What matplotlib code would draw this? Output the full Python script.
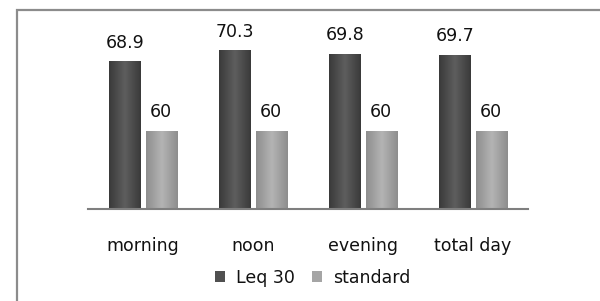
import numpy as np
import matplotlib
matplotlib.use("Agg")
from matplotlib import pyplot as plt
from matplotlib.patches import Rectangle
from matplotlib.colors import LinearSegmentedColormap

categories = ["morning", "noon", "evening", "total day"]
leq30 = [68.9, 70.3, 69.8, 69.7]
standard = [60, 60, 60, 60]
series_names = ["Leq 30", "standard"]

plt.rcParams['font.family'] = ['DejaVu Sans']

fig = plt.figure(figsize=(6, 3.01), dpi=100)
# gray outer frame (only top and left visible in the crop)
fig.add_artist(Rectangle((17/600, -0.1), 1.0, 1 - 10/301 + 0.1, transform=fig.transFigure,
                         fill=False, edgecolor="#8c8c8c", linewidth=1.6))

ax = fig.add_axes([88/600, 91.7/301, 440/600, 188/301])
x = np.arange(len(categories))
w = 0.283
off = 0.165

dark = LinearSegmentedColormap.from_list("dk", ["#3a3a3a", "#5e5e5e", "#3a3a3a"])
light = LinearSegmentedColormap.from_list("lt", ["#8e8e8e", "#b4b4b4", "#8e8e8e"])

b1 = ax.bar(x - off, leq30, w, color="#505050", label=series_names[0])
b2 = ax.bar(x + off, standard, w, color="#a5a5a5", label=series_names[1])

ax.set_xlim(-0.5, 3.5)
ax.set_ylim(50, 74)

grad = np.linspace(0, 1, 64).reshape(1, -1)
for bars, cmap in ((b1, dark), (b2, light)):
    for bar in bars:
        x0, y0 = bar.get_x(), 50
        x1, y1 = bar.get_x() + bar.get_width(), bar.get_height()
        im = ax.imshow(grad, cmap=cmap, extent=(x0, x1, y0, y1), aspect="auto", zorder=2)
        im.set_clip_path(bar)
        bar.set_zorder(1)

for bars, vals in ((b1, leq30), (b2, standard)):
    for bar, v in zip(bars, vals):
        ax.annotate(f"{v:g}", (bar.get_x() + bar.get_width()/2, v), xytext=(0, 7),
                    textcoords="offset points", ha="center", va="bottom",
                    fontsize=12.5, color="#111111", annotation_clip=False)

for s in ["top", "right", "left"]:
    ax.spines[s].set_visible(False)
ax.spines["bottom"].set_color("#7f7f7f")
ax.spines["bottom"].set_linewidth(1.5)
ax.set_yticks([])
ax.set_xticks(x)
ax.set_xticklabels(categories, fontsize=12.5, color="#111111")
ax.tick_params(axis="x", length=0, pad=20)

leg = ax.legend(loc="upper center", bbox_to_anchor=(0.51, -0.235), ncol=2, frameon=False,
                fontsize=12.5, handlelength=0.6, handleheight=0.6, handletextpad=0.6,
                columnspacing=1.0)
for t in leg.get_texts():
    t.set_color("#111111")

fig.savefig("out.png", dpi=100)
